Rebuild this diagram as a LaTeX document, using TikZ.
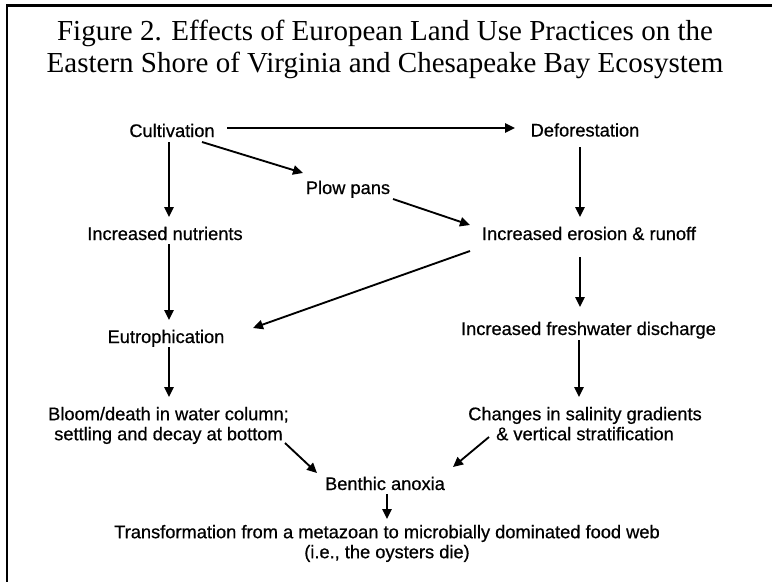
\documentclass[tikz,border=0pt]{standalone}
\usepackage{fontspec}
\setmainfont{Liberation Serif}
\newfontfamily\arialf[FakeBold=0.6]{Liberation Sans}
\usetikzlibrary{arrows.meta,calc}
\begin{document}
\begin{tikzpicture}[x=0.75pt,y=-0.75pt,
  lbl/.style={font=\arialf\fontsize{13.7}{15}\selectfont, inner sep=0pt, anchor=base},
  lbltwo/.style={font=\arialf\fontsize{13.7}{15}\selectfont, inner sep=0pt, anchor=north, align=center},
  ttl/.style={font=\fontsize{21.75}{24}\selectfont, inner sep=0pt, anchor=north, align=center},
  arr/.style={-{Triangle[length=7.5pt,width=7pt]}, line width=1.4pt},
  framestyle/.style={line width=1.9pt}]
\useasboundingbox (0,0) rectangle (772,582);
\fill[white] (0,0) rectangle (772,582);
\draw[framestyle] (7,582) -- (7,5.5) -- (772,5.5);

\node[ttl] (title) at (385,20.2) {Figure 2. Effects of European Land Use Practices on the\\Eastern Shore of Virginia and Chesapeake Bay Ecosystem};

\node[lbl] (cult) at (172,137) {Cultivation};
\node[lbl] (defo) at (585,136.5) {Deforestation};
\node[lbl] (plow) at (348,194) {Plow pans};
\node[lbl] (nutr) at (165,240) {Increased nutrients};
\node[lbl] (eros) at (589,240) {Increased erosion \& runoff};
\node[lbl] (eutro) at (166,343) {Eutrophication};
\node[lbl] (fresh) at (588.5,335) {Increased freshwater discharge};
\node[lbltwo] (bloom) at (168.5,406.7) {Bloom/death in water column;\\settling and decay at bottom};
\node[lbltwo] (chang) at (585,406.7) {Changes in salinity gradients\\\& vertical stratification};
\node[lbl] (benth) at (385,490) {Benthic anoxia};
\node[lbltwo] (trans) at (387,524.7) {Transformation from a metazoan to microbially dominated food web\\(i.e., the oysters die)};

\draw[arr] ($(cult.base)+(55,-9)$) -- ($(defo.base)+(-70,-8.5)$);
\draw[arr] ($(cult.base)+(30,5)$) -- ($(plow.base)+(-45,-21)$);
\draw[arr] ($(cult.base)+(-3,5)$) -- ($(nutr.base)+(4,-23)$);
\draw[arr] ($(plow.base)+(45,5)$) -- ($(eros.base)+(-119,-15)$);
\draw[arr] ($(defo.base)+(-5,10.5)$) -- ($(eros.base)+(-9,-23)$);
\draw[arr] ($(eros.base)+(-119,11)$) -- ($(eutro.base)+(87,-15)$);
\draw[arr] ($(nutr.base)+(4,4)$) -- ($(eutro.base)+(3,-23)$);
\draw[arr] ($(eros.base)+(-9,17)$) -- ($(fresh.base)+(-8.5,-28)$);
\draw[arr] ($(eutro.base)+(3,4)$) -- ($(bloom.north)+(0.5,-9.7)$);
\draw[arr] ($(fresh.base)+(-9.5,5)$) -- ($(chang.north)+(-6,-9.7)$);
\draw[arr] ($(bloom.north)+(116.5,36.3)$) -- ($(benth.base)+(-68,-17)$);
\draw[arr] ($(chang.north)+(-96,30.3)$) -- ($(benth.base)+(68,-23)$);
\draw[arr] ($(benth.base)+(2,4)$) -- ($(trans.north)+(0,-5.7)$);
\end{tikzpicture}
\end{document}
